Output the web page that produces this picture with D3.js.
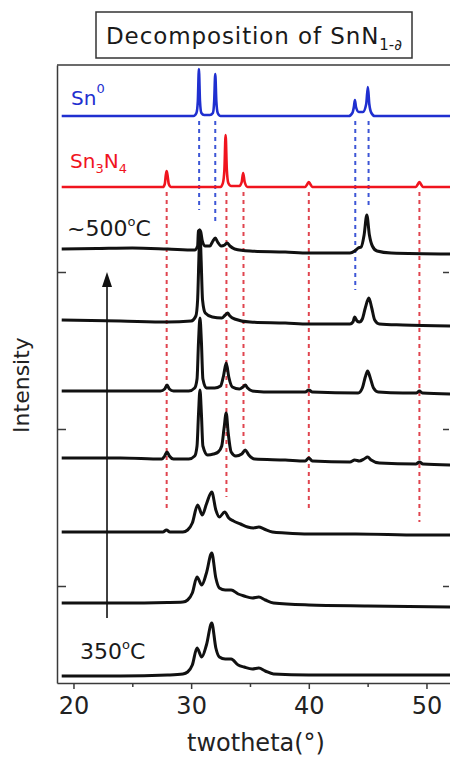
<!DOCTYPE html>
<html>
<head>
<meta charset="utf-8">
<script src="https://cdn.jsdelivr.net/npm/d3@7"></script>
<style>
  body { margin: 0; background: #fff; }
  svg { display: block; font-family: "DejaVu Sans", sans-serif; }
</style>
</head>
<body>
<svg id="chart" width="450" height="757"></svg>
<script>
// axis ranges (2theta in degrees, stacked intensity in a.u.)
const xDomain = [18.6, 52.0];
const xMajorTicks = [20, 30, 40, 50];
const xMinorTicks = [25, 35, 45];
const yDomain = [0, 618];
const yTicks = [97, 254, 411];

// reference patterns: [2theta, intensity above own baseline]
const sn0Offset = 567;
const sn0Pattern = [
  [19.0, 0], [30.2, 0], [30.45, 3], [30.57, 15], [30.66, 47], [30.75, 15], [30.87, 3], [31.1, 1],
  [31.6, 1], [31.85, 3], [31.96, 15], [32.05, 42], [32.14, 15], [32.26, 3], [32.5, 0],
  [43.4, 0], [43.7, 3], [43.83, 9], [43.92, 16], [44.01, 9], [44.25, 4], [44.6, 4],
  [44.88, 12], [45.02, 29], [45.14, 12], [45.32, 3], [45.6, 0], [52.0, 0]
];
const sn3n4Offset = 496;
const sn3n4Pattern = [
  [19.0, 0], [27.6, 0], [27.76, 3], [27.85, 12], [27.92, 16], [27.99, 12], [28.1, 3], [28.3, 0],
  [32.5, 0], [32.7, 4], [32.83, 18], [32.93, 52], [33.03, 18], [33.16, 4], [33.4, 1],
  [34.1, 1], [34.3, 5], [34.42, 14], [34.55, 5], [34.8, 0],
  [39.7, 0], [39.88, 3], [40.0, 5], [40.12, 3], [40.3, 0],
  [49.1, 0], [49.28, 3], [49.4, 5], [49.52, 3], [49.7, 0], [52.0, 0]
];

// measured patterns, bottom (350 C) to top (~500 C)
const scanOffsets = [8, 80, 151, 225, 292, 363, 434];
const scan350 = [
  [19.0, -1], [24, -1], [28, 0], [29.3, 1], [29.7, 3], [30.1, 10], [30.5, 27], [30.9, 18],
  [31.3, 30], [31.75, 52], [32.1, 27], [32.4, 18], [32.9, 16], [33.4, 16], [34.0, 10],
  [34.5, 8], [35.2, 6], [35.75, 7], [36.3, 4], [37, 1], [40, 0], [45, 0], [52, 0]
];
const scan2 = [
  [19.0, 0], [24, 0], [28, 0.5], [29.3, 1], [29.7, 3], [30.1, 10], [30.5, 26], [30.9, 18],
  [31.3, 30], [31.75, 50], [32.1, 25], [32.4, 15], [32.9, 13], [33.4, 13], [34.0, 9],
  [34.5, 7], [35.2, 5], [35.75, 6], [36.3, 3], [37, 0], [40, -2], [45, -3], [52, -4]
];
const scan3 = [
  [19.0, 0], [24, 0], [27.6, 0], [27.9, 2], [28.2, 0], [29.3, 0], [29.7, 2], [30.1, 9],
  [30.55, 27], [30.95, 17], [31.3, 28], [31.75, 40], [32.1, 22], [32.4, 15], [32.85, 20],
  [33.2, 14], [33.6, 11], [34.2, 8], [34.8, 5], [35.3, 4], [35.75, 5], [36.2, 3],
  [36.9, 0], [38, -1], [40, -2], [44, -2], [49.4, -3], [52, -3]
];
const scan4 = [
  [19.0, 0], [24, 0], [27.5, -1], [27.75, 2], [27.95, 6], [28.15, 2], [28.5, -1], [29.8, -1],
  [30.3, 2], [30.5, 12], [30.63, 45], [30.75, 68], [30.87, 45], [31.0, 12], [31.4, 3],
  [31.9, 4], [32.3, 6], [32.6, 12], [32.8, 30], [32.98, 45], [33.15, 25], [33.4, 6],
  [33.8, 2], [34.3, 4], [34.6, 8], [34.9, 3], [35.4, -1], [38, -2], [39.7, -3], [40.0, 0],
  [40.3, -3], [43.5, -4], [43.9, -2], [44.3, -3], [44.7, -1], [45.0, 1], [45.3, -2],
  [46, -5], [49.1, -6], [49.4, -4], [49.7, -6], [52, -7]
];
const scan5 = [
  [19.0, 0], [24, 0], [27.4, 0], [27.75, 2], [27.95, 6], [28.15, 2], [28.5, 0], [29.8, 0],
  [30.3, 3], [30.5, 12], [30.63, 50], [30.75, 73], [30.87, 50], [31.0, 12], [31.3, 3],
  [32.0, 3], [32.5, 5], [32.75, 15], [32.98, 28], [33.2, 14], [33.5, 4], [34.1, 2],
  [34.4, 4], [34.6, 6], [34.8, 3], [35.2, 0], [37, -1], [39.7, -1], [40.0, 1], [40.3, -1],
  [44.2, -2], [44.55, 3], [44.8, 14], [45.0, 20], [45.2, 14], [45.5, 3], [45.9, -1],
  [48, -2], [49.15, -2], [49.4, 0], [49.65, -2], [52, -3]
];
const scan6 = [
  [19.0, 0], [24, -1], [28, -2], [30.0, -1], [30.4, 4], [30.55, 20], [30.68, 70],
  [30.75, 90], [30.85, 60], [30.97, 20], [31.2, 7], [31.8, 3], [32.6, 2], [32.9, 5],
  [33.1, 7], [33.3, 4], [33.7, 1], [35, -2], [38, -3], [40, -4], [43.5, -4], [43.75, -2],
  [43.9, 3], [44.1, -1], [44.3, -2], [44.55, 1], [44.8, 12], [45.1, 22], [45.35, 12],
  [45.6, 0], [46, -4], [48, -5], [52, -6]
];
const scan500 = [
  [19.0, 0], [22, 0.5], [25, 1], [28, 0], [30.3, -1], [30.55, 3], [30.62, 18], [30.72, 19],
  [30.82, 17], [30.95, 8], [31.2, 3], [31.6, 3], [31.85, 8], [32.05, 11], [32.25, 7],
  [32.55, 3], [32.85, 4], [33.05, 6], [33.3, 3], [33.7, 0], [35, -2], [38, -3], [40, -4],
  [43.5, -4], [43.9, -2], [44.2, 1], [44.45, 2], [44.7, 14], [44.93, 34], [45.15, 14],
  [45.4, 3], [45.8, -2], [47, -4], [52, -5]
];
const scans = [scan350, scan2, scan3, scan4, scan5, scan6, scan500];

// reference drop lines: [2theta, lowest intensity reached]
const sn0Drops = [[30.68, 473], [32.05, 460], [43.95, 393], [45.08, 476]];
const sn3n4Drops = [[27.92, 173], [33.0, 186], [34.45, 238], [40.0, 175], [49.4, 161]];

// temperature arrow: [2theta, from, to]
const arrowSpec = [22.85, 65, 411];

const width = 450, height = 757;
const plot = { left: 57, right: 450, top: 65, bottom: 683 };

const svg = d3.select("#chart");

const x = d3.scaleLinear().domain(xDomain).range([plot.left, plot.right]);
const y = d3.scaleLinear().domain(yDomain).range([plot.bottom, plot.top]);

svg.append("defs").append("clipPath").attr("id", "clip")
  .append("rect")
  .attr("x", plot.left).attr("y", plot.top - 10)
  .attr("width", plot.right - plot.left).attr("height", plot.bottom - plot.top + 10);

const line = offset => d3.line()
  .x(d => x(d[0]))
  .y(d => y(d[1] + offset))
  .curve(d3.curveMonotoneX);

const layer = svg.append("g").attr("clip-path", "url(#clip)");

// dashed guide lines first, curves go on top
const dropStart = 5;
layer.selectAll(".drop-red")
  .data(sn3n4Drops)
  .join("line")
  .attr("x1", d => x(d[0])).attr("x2", d => x(d[0]))
  .attr("y1", y(sn3n4Offset - dropStart)).attr("y2", d => y(d[1]))
  .attr("stroke", "#e0454f").attr("stroke-width", 2)
  .attr("stroke-dasharray", "4,4");

layer.selectAll(".drop-blue")
  .data(sn0Drops)
  .join("line")
  .attr("x1", d => x(d[0])).attr("x2", d => x(d[0]))
  .attr("y1", y(sn0Offset - dropStart)).attr("y2", d => y(d[1]))
  .attr("stroke", "#3d56d6").attr("stroke-width", 2)
  .attr("stroke-dasharray", "4,4");

layer.append("path")
  .datum(sn0Pattern)
  .attr("d", line(sn0Offset))
  .attr("fill", "none").attr("stroke", "#1f2fd0").attr("stroke-width", 2.6);

layer.append("path")
  .datum(sn3n4Pattern)
  .attr("d", line(sn3n4Offset))
  .attr("fill", "none").attr("stroke", "#f0141e").attr("stroke-width", 2.6);

scans.forEach((scan, i) => {
  layer.append("path")
    .datum(scan)
    .attr("d", line(scanOffsets[i]))
    .attr("fill", "none")
    .attr("stroke", "#111")
    .attr("stroke-width", 3)
    .attr("stroke-linejoin", "round");
});

// arrow
svg.append("line")
  .attr("x1", x(arrowSpec[0])).attr("x2", x(arrowSpec[0]))
  .attr("y1", y(arrowSpec[1])).attr("y2", y(arrowSpec[2]) + 12)
  .attr("stroke", "#111").attr("stroke-width", 1.6);
svg.append("path")
  .attr("d", `M${x(arrowSpec[0])},${y(arrowSpec[2])} l-5,15 l10,0 z`)
  .attr("fill", "#111");

// axes
const axisColor = "#3a3a3a";
const gx = svg.append("g")
  .attr("transform", `translate(0,${plot.bottom})`)
  .call(d3.axisBottom(x).tickValues(xMajorTicks).tickSize(6).tickSizeOuter(0).tickPadding(8)
    .tickFormat(d3.format("d")));
svg.append("g")
  .attr("transform", `translate(0,${plot.bottom})`)
  .call(d3.axisBottom(x).tickValues(xMinorTicks).tickSize(4).tickFormat(""))
  .call(g => g.select(".domain").remove());

const gl = svg.append("g")
  .attr("transform", `translate(${plot.left},0)`)
  .call(d3.axisLeft(y).tickValues(yTicks).tickSize(-9).tickSizeOuter(0).tickFormat(""));
const gr = svg.append("g")
  .attr("transform", `translate(${plot.right - 1},0)`)
  .call(d3.axisRight(y).tickValues(yTicks).tickSize(-6).tickFormat(""))
  .call(g => g.select(".domain").remove());

svg.append("line")
  .attr("x1", plot.left).attr("x2", plot.right)
  .attr("y1", plot.top).attr("y2", plot.top);

svg.selectAll(".domain, .tick line, svg > line:last-of-type")
  .attr("stroke", axisColor).attr("stroke-width", 1.5);
svg.selectAll(".tick text")
  .attr("fill", "#222").style("font-size", "24px").style("font-family", "DejaVu Sans");

// axis titles
svg.append("text")
  .attr("x", 256).attr("y", 751)
  .attr("text-anchor", "middle")
  .style("font-size", "24px").attr("fill", "#222")
  .text("twotheta(°)");

svg.append("text")
  .attr("transform", "translate(29,385) rotate(-90)")
  .attr("text-anchor", "middle")
  .style("font-size", "22px").attr("fill", "#222")
  .text("Intensity");

// title box
svg.append("rect")
  .attr("x", 96).attr("y", 12).attr("width", 316).attr("height", 46)
  .attr("fill", "#fff").attr("stroke", "#333").attr("stroke-width", 1.5);
const title = svg.append("text")
  .attr("x", 106).attr("y", 44)
  .style("font-size", "23px").style("letter-spacing", "0.9px").attr("fill", "#1a1a1a");
title.append("tspan").text("Decomposition of SnN");
title.append("tspan").attr("dy", 6).style("font-size", "15px").style("letter-spacing", "0").text("1-∂");

// series labels
const snLabel = svg.append("text")
  .attr("x", 71).attr("y", 105).attr("fill", "#1f2fd0").style("font-size", "20px");
snLabel.append("tspan").text("Sn");
snLabel.append("tspan").attr("dy", -12).style("font-size", "13px").text("0");

const sn3Label = svg.append("text")
  .attr("x", 70).attr("y", 168).attr("fill", "#f0141e").style("font-size", "20px");
sn3Label.append("tspan").text("Sn");
sn3Label.append("tspan").attr("dy", 5).style("font-size", "13px").text("3");
sn3Label.append("tspan").attr("dy", -5).text("N");
sn3Label.append("tspan").attr("dy", 5).style("font-size", "13px").text("4");

function tempLabel(xp, yp, prefix) {
  const t = svg.append("text")
    .attr("x", xp).attr("y", yp).attr("fill", "#1a1a1a").style("font-size", "22px");
  t.append("tspan").text(prefix);
  t.append("tspan").attr("dy", -10).style("font-size", "13px").text("o");
  t.append("tspan").attr("dy", 10).text("C");
}
tempLabel(67, 236, "~500");
tempLabel(80, 659, "350");
</script>
</body>
</html>
